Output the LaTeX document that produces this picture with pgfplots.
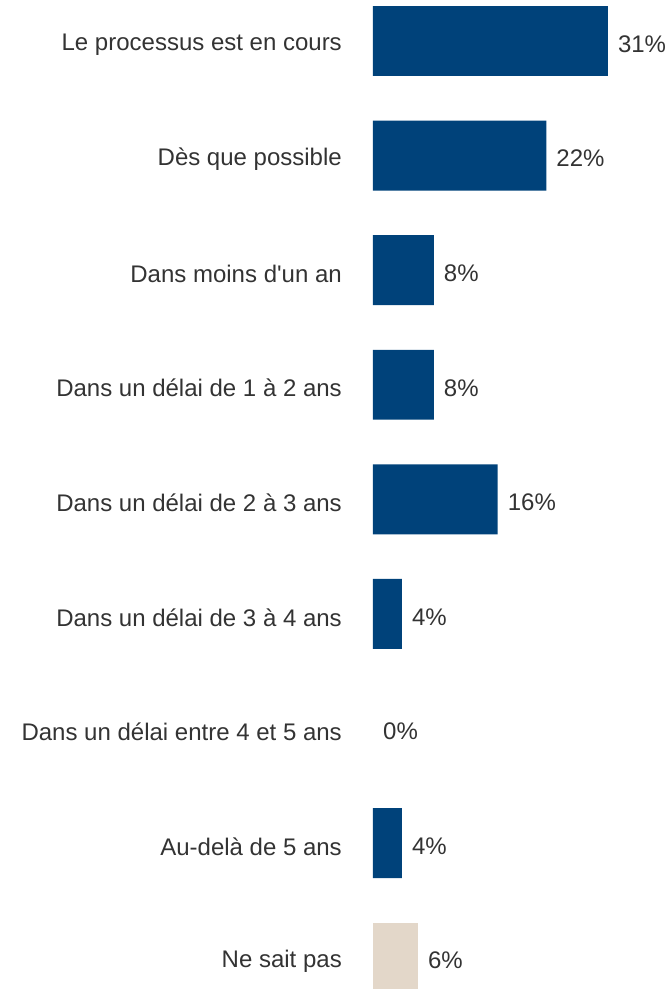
\documentclass[border=0pt]{standalone}
\usepackage{pgfplots}
\pgfplotsset{compat=1.18}
\usepackage{fontspec}
\setmainfont{Liberation Sans}
\definecolor{bblue}{HTML}{00427A}
\definecolor{beige}{HTML}{E3D7C9}
\definecolor{txt}{HTML}{333333}
\begin{document}
\begin{tikzpicture}
\useasboundingbox (-373pt,26pt) rectangle (299pt,1015pt);
\begin{axis}[
 at={(0,0)}, anchor=south west, scale only axis,
 width=304pt, height=1031.4pt,
 xmin=0, xmax=40, ymin=-0.5, ymax=8.5, y dir=reverse,
 xbar, bar width=0.61, bar shift=0pt,
 axis line style={draw=none}, major tick length=0pt,
 xtick=\empty, ytick={0,...,8},
 yticklabels={Le processus est en cours, Dès que possible, Dans moins d\textquotesingle un an, Dans un délai de 1 à 2 ans, Dans un délai de 2 à 3 ans, Dans un délai de 3 à 4 ans, Dans un délai entre 4 et 5 ans, Au-delà de 5 ans, Ne sait pas},
 yticklabel style={inner sep=0pt, yshift=-3.5pt, font=\fontsize{24}{28}\selectfont, text=txt},
 yticklabel shift=31pt,
 nodes near coords, point meta=explicit symbolic,
 every node near coord/.append style={anchor=west, inner sep=0pt, xshift=10pt, yshift=-3pt, font=\fontsize{24}{28}\selectfont, text=txt},
]
\addplot[fill=bblue, draw=none] coordinates {(30.9,0) [31\%] (22.8,1) [22\%] (8.0,2) [8\%] (8.0,3) [8\%] (16.4,4) [16\%] (3.8,5) [4\%] (3.8,7) [4\%]};
\addplot[fill=none, draw=none] coordinates {(0,6) [0\%]};
\addplot[fill=beige, draw=none] coordinates {(5.9,8) [6\%]};
\end{axis}
\end{tikzpicture}
\end{document}
